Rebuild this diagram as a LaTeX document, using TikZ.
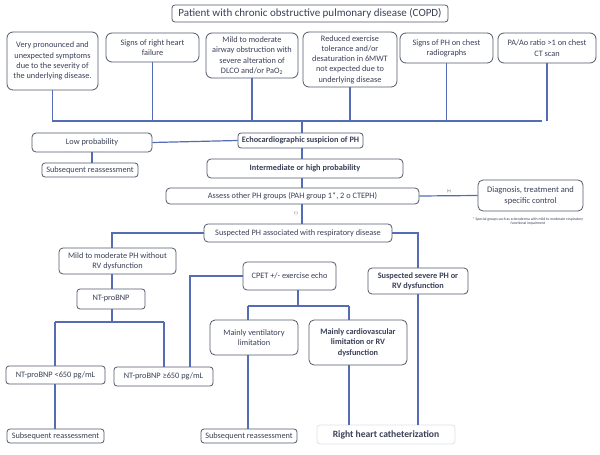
\documentclass[tikz,border=0pt]{standalone}
\usepackage{fontspec}
\setmainfont{Carlito}
\definecolor{lineblue}{RGB}{84,108,180}
\definecolor{boxborder}{RGB}{82,88,106}
\definecolor{txt}{RGB}{58,64,88}
\definecolor{lightborder}{RGB}{222,226,234}
\begin{document}
\begin{tikzpicture}[x=1pt,y=-1pt,
  box/.style={draw=boxborder,line width=0.8pt,rounded corners=3pt,fill=white,
    align=center,inner sep=1pt,text=txt,font=\fontsize{8.3}{10.3}\selectfont},
  topbox/.style={box,rounded corners=6pt},
  boldbox/.style={box,font=\fontsize{8.3}{10.3}\selectfont\bfseries},
  conn/.style={draw=lineblue,line width=1.2pt},
  tiny/.style={text=txt,inner sep=0pt,align=center,font=\fontsize{3.8}{4.6}\selectfont}]
\useasboundingbox (0,0) rectangle (600,455);
\fill[white] (0,0) rectangle (600,455);
% nodes
\node[box,minimum width=276pt,minimum height=17pt,font=\fontsize{11}{13}\selectfont] (title) at (310,13.5) {Patient with chronic obstructive pulmonary disease (COPD)};
\node[topbox,minimum width=91pt,minimum height=58pt] (b1) at (52.5,61) {Very pronounced and\\unexpected symptoms\\due to the severity of\\the underlying disease.};
\node[topbox,minimum width=93pt,minimum height=29pt] (b2) at (152.5,47.5) {Signs of right heart\\failure};
\node[topbox,minimum width=92pt,minimum height=45pt] (b3) at (252,55.5) {Mild to moderate\\airway obstruction with\\severe alteration of\\DLCO and/or PaO\textsubscript{2}};
\node[topbox,minimum width=94pt,minimum height=55pt] (b4) at (350,59.5) {Reduced exercise\\tolerance and/or\\desaturation in 6MWT\\not expected due to\\underlying disease};
\node[topbox,minimum width=93pt,minimum height=30pt] (b5) at (446.5,48) {Signs of PH on chest\\radiographs};
\node[topbox,minimum width=98pt,minimum height=30pt] (b6) at (547,48) {PA/Ao ratio >1 on chest\\CT scan};
\node[boldbox,minimum width=125pt,minimum height=15pt] (echo) at (300.5,140.5) {Echocardiographic suspicion of PH};
\node[box,rounded corners=4pt,minimum width=120pt,minimum height=19pt] (low) at (92,142.5) {Low probability};
\node[box,minimum width=96pt,minimum height=14pt] (sub1) at (90,170) {Subsequent reassessment};
\node[boldbox,rounded corners=4pt,minimum width=196pt,minimum height=19pt] (inter) at (305,168.5) {Intermediate or high probability};
\node[box,rounded corners=4pt,minimum width=253pt,minimum height=16pt] (assess) at (292.5,196) {Assess other PH groups (PAH group 1*, 2 o CTEPH)};
\node[box,rounded corners=5pt,minimum width=105pt,minimum height=31pt,font=\fontsize{8.5}{11}\selectfont] (diag) at (530.5,195.5) {Diagnosis, treatment and\\specific control};
\node[tiny] (foot) at (528,221.5) {* Special groups such as scleroderma with mild to moderate respiratory\\functional impairment};
\node[tiny] (plus) at (449,191) {(+)};
\node[tiny] (minus) at (296,213) {(-)};
\node[box,rounded corners=4pt,minimum width=188pt,minimum height=18pt] (susp) at (298,233) {Suspected PH associated with respiratory disease};
\node[box,rounded corners=4pt,minimum width=117pt,minimum height=26pt] (mild) at (117.5,261) {Mild to moderate PH without\\RV dysfunction};
\node[box,minimum width=68pt,minimum height=20pt] (ntp) at (111,299) {NT-proBNP};
\node[box,minimum width=99pt,minimum height=18pt] (lt) at (55.5,375) {NT-proBNP <650 pg/mL};
\node[box,minimum width=99pt,minimum height=19pt] (ge) at (163.5,376.5) {NT-proBNP ≥650 pg/mL};
\node[box,minimum width=97pt,minimum height=14pt] (sub2) at (55.5,436) {Subsequent reassessment};
\node[box,rounded corners=4pt,minimum width=93pt,minimum height=28pt] (cpet) at (289.5,276) {CPET +/- exercise echo};
\node[box,rounded corners=5pt,minimum width=88pt,minimum height=35pt] (vent) at (254,337.5) {Mainly ventilatory\\limitation};
\node[boldbox,rounded corners=5pt,minimum width=98pt,minimum height=45pt] (cardio) at (358,342.5) {Mainly cardiovascular\\limitation or RV\\dysfunction};
\node[box,minimum width=96pt,minimum height=14pt] (sub3) at (249,436) {Subsequent reassessment};
\node[boldbox,rounded corners=4pt,minimum width=100pt,minimum height=26pt] (severe) at (418,281) {Suspected severe PH or\\RV dysfunction};
\node[box,draw=lightborder,minimum width=138pt,minimum height=19pt,font=\fontsize{9.6}{11}\selectfont\bfseries] (rhc) at (386,434.5) {Right heart catheterization};
% helper coordinates
\coordinate (busL) at (52,121);
\coordinate (busR) at (542,121);
\coordinate (sp) at (302,0);
\coordinate (lx) at (112,0);
\coordinate (sA) at (55,322);
\coordinate (sB) at (164,322);
\coordinate (cx) at (190,0);
\coordinate (vA) at (248,306);
\coordinate (vB) at (349,306);
% connectors
\draw[conn] (busL) -- (busR);
\foreach \n in {b1,b2,b3,b4,b5,b6} \draw[conn] (\n.south) -- (\n.south |- busL);
\draw[conn] (sp |- busL) -- (sp |- echo.north);
\draw[conn] (low.east) -- (echo.west);
\draw[conn] (sub1.north -| low.south) -- (low.south);
\draw[conn] (sp |- echo.south) -- (sp |- inter.north);
\draw[conn] (sp |- inter.south) -- (sp |- assess.north);
\draw[conn] (assess.east) -- (diag.west);
\draw[conn] (sp |- assess.south) -- (sp |- susp.north);
\draw[conn] (susp.west) -| (lx |- mild.north);
\draw[conn] (susp.east) -| (severe.north);
\draw[conn] (lx |- mild.south) -- (lx |- ntp.north);
\draw[conn] (lx |- ntp.south) -- (lx |- sA);
\draw[conn] (sA) -- (sB);
\draw[conn] (sA) -- (sA |- lt.north);
\draw[conn] (sB) -- (sB |- ge.north);
\draw[conn] (cpet.west) -| (cx |- ge.north);
\draw[conn] (sA |- lt.south) -- (sA |- sub2.north);
\draw[conn] (cpet.south -| 298,0) -- (298,306);
\draw[conn] (vA) -- (vB);
\draw[conn] (vA) -- (vA |- vent.north);
\draw[conn] (vB) -- (vB |- cardio.north);
\draw[conn] (vA |- vent.south) -- (vA |- sub3.north);
\draw[conn] (vB |- cardio.south) -- (vB |- rhc.north);
\draw[conn] (severe.south) -- (severe.south |- rhc.north);
\end{tikzpicture}
\end{document}
